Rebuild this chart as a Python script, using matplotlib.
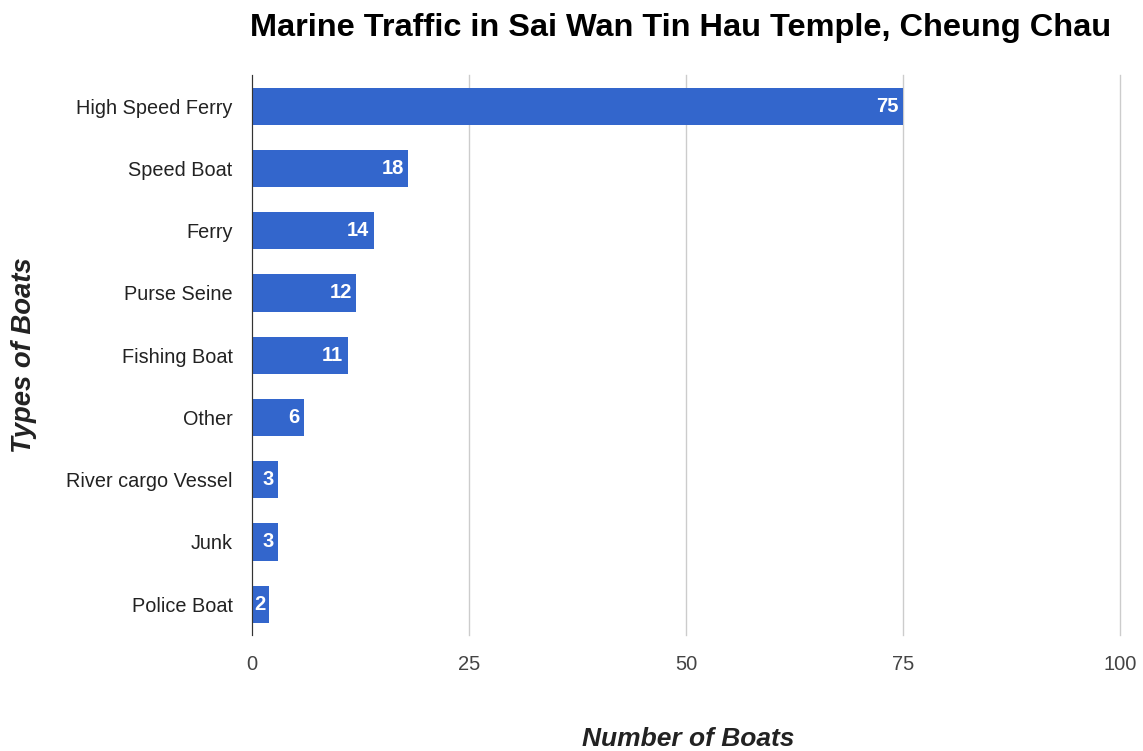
import matplotlib.pyplot as plt

plt.rcParams['font.family'] = ['Liberation Sans', 'DejaVu Sans']

# Boat counts, top to bottom
boat_types = ['High Speed Ferry', 'Speed Boat', 'Ferry', 'Purse Seine', 'Fishing Boat',
              'Other', 'River cargo Vessel', 'Junk', 'Police Boat']
boat_counts = [75, 18, 14, 12, 11, 6, 3, 3, 2]
x_ticks = [0, 25, 50, 75, 100]

fig = plt.figure(figsize=(11.43, 7.51), dpi=100)
ax = fig.add_axes([0.2205, 0.154, 0.7595, 0.746])

pos = list(range(len(boat_types)))
bars = ax.barh(pos, boat_counts, height=0.6, color='#3366CC', zorder=3)
ax.set_ylim(len(boat_types) - 0.5, -0.5)
ax.set_xlim(0, 100)

# value labels inside the bar ends
for b, v in zip(bars, boat_counts):
    ax.text(b.get_width() - 0.5, b.get_y() + b.get_height() / 2, str(v),
            ha='right', va='center', color='white', fontsize=14.5,
            fontweight='bold', zorder=4)

ax.set_yticks(pos)
ax.set_yticklabels(boat_types, fontsize=14.3, color='#222222')
ax.set_xticks(x_ticks)
ax.set_xticklabels([str(t) for t in x_ticks], fontsize=14.5, color='#444444')
ax.tick_params(axis='both', length=0)
ax.tick_params(axis='y', pad=14)
ax.tick_params(axis='x', pad=14)

ax.grid(axis='x', color='#cccccc', linewidth=1, zorder=0)
for gl in ax.get_xgridlines():
    gl.set_clip_on(False)
for s in ['top', 'right', 'bottom']:
    ax.spines[s].set_visible(False)
ax.spines['left'].set_color('#333333')
ax.spines['left'].set_zorder(5)

fig.text(0.595, 0.963, 'Marine Traffic in Sai Wan Tin Hau Temple, Cheung Chau',
         ha='center', va='center', fontsize=23.4, fontweight='bold', color='black')
fig.text(0.602, 0.016, 'Number of Boats', ha='center', va='center', fontsize=19,
         fontweight='bold', fontstyle='italic', color='#222222')
fig.text(0.021, 0.527, 'Types of Boats', ha='center', va='center', rotation=90,
         fontsize=19.8, fontweight='bold', fontstyle='italic', color='#222222')

fig.savefig('out.png', dpi=100, facecolor='white')
